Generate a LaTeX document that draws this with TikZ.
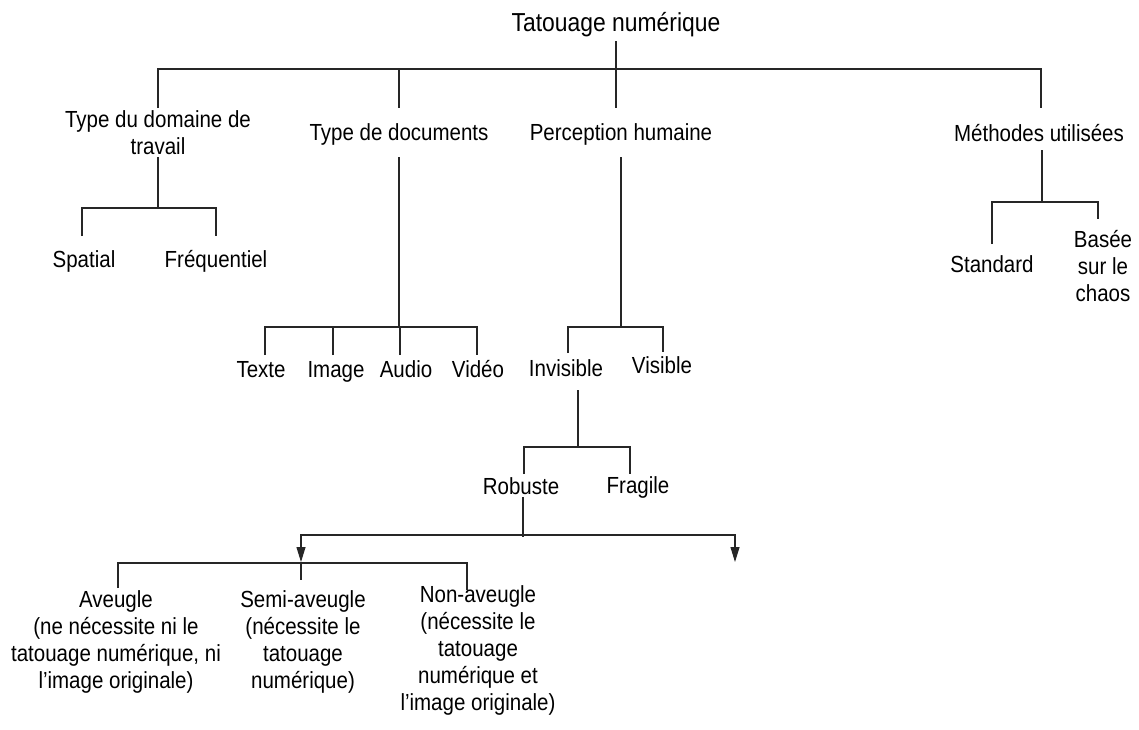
\documentclass[tikz,border=0pt]{standalone}
\usepackage{fontspec}
\setmainfont{Liberation Sans}[FakeStretch=0.88]
\usetikzlibrary{arrows.meta}
\newcommand{\ml}[1]{\begin{tabular}[t]{@{}c@{}}#1\end{tabular}}
\tikzset{
  lbl/.style={anchor=base, inner sep=0pt, font=\fontsize{23.3}{27}\selectfont},
  ttl/.style={anchor=base, inner sep=0pt, font=\fontsize{26}{30}\selectfont},
  ln/.style={line width=1.1pt, draw=black!85},
  arr/.style={ln, -{Triangle[length=15pt,width=9pt]}},
}
\begin{document}
\begin{tikzpicture}[x=1pt,y=-1pt]
\useasboundingbox (0,0) rectangle (1139,729);
% nodes
\node[ttl] (root) at (616,31) {Tatouage numérique};
\node[lbl] (tdom) at (158,127) {\ml{Type du domaine de\\travail}};
\node[lbl] (tdoc) at (399,140) {Type de documents};
\node[lbl] (perc) at (621,140) {Perception humaine};
\node[lbl] (meth) at (1039,141) {Méthodes utilisées};
\node[lbl] (spat) at (84,267) {Spatial};
\node[lbl] (freq) at (216,267) {Fréquentiel};
\node[lbl] (texte) at (261,377) {Texte};
\node[lbl] (image) at (336,377) {Image};
\node[lbl] (audio) at (406,377) {Audio};
\node[lbl] (video) at (478,377) {Vidéo};
\node[lbl] (invis) at (566,376) {Invisible};
\node[lbl] (visib) at (662,373) {Visible};
\node[lbl] (robu) at (521,494) {Robuste};
\node[lbl] (frag) at (638,493) {Fragile};
\node[lbl] (stand) at (992,272) {Standard};
\node[lbl] (basee) at (1103,247) {\ml{Basée\\sur le\\chaos}};
\node[lbl] (aveu) at (116,607) {\ml{Aveugle\\(ne nécessite ni le\\tatouage numérique, ni\\l’image originale)}};
\node[lbl] (semi) at (303,607) {\ml{Semi-aveugle\\(nécessite le\\tatouage\\numérique)}};
\node[lbl] (nonav) at (478,602) {\ml{Non-aveugle\\(nécessite le\\tatouage\\numérique et\\l’image originale)}};
% coordinates
\coordinate (r0) at (616,41);
\coordinate (r1) at (616,108);
\coordinate (bL) at (158,69);
\coordinate (bR) at (1041,69);
\coordinate (dL) at (158,108);
\coordinate (dD) at (399,108);
\coordinate (dM) at (1041,108);
% domaine subtree
\coordinate (tdom1) at (158,157);
\coordinate (tdom2) at (158,208);
\coordinate (spat1) at (82,236);
\coordinate (freq1) at (216,236);
% documents subtree
\coordinate (tdoc1) at (399,157);
\coordinate (tdoc2) at (399,327);
\coordinate (texte1) at (265,355);
\coordinate (image1) at (333,355);
\coordinate (audio1) at (400,355);
\coordinate (video1) at (477,355);
% perception subtree
\coordinate (perc1) at (621,157);
\coordinate (perc2) at (621,327);
\coordinate (invis1) at (568,353);
\coordinate (visib1) at (663,352);
\coordinate (invis2) at (578,390);
\coordinate (invis3) at (578,447);
\coordinate (robu1) at (524,474);
\coordinate (frag1) at (630,474);
% robuste
\coordinate (robu2) at (523,497);
\coordinate (robu3) at (523,537);
\coordinate (robu4) at (523,535);
\coordinate (arrL) at (301,562);
\coordinate (arrR) at (735,562);
\coordinate (lowL) at (118,563);
\coordinate (lowR) at (467,563);
\coordinate (aveu1) at (118,588);
\coordinate (semi1) at (301,563);
\coordinate (semi2) at (301,580);
\coordinate (nonav1) at (467,590);
% methodes
\coordinate (meth1) at (1042,150);
\coordinate (meth2) at (1042,202);
\coordinate (stand1) at (992,244);
\coordinate (basee1) at (1098,219);
% connectors
\draw[ln] (r0) -- (r1);
\draw[ln] (dL) -- (bL) -- (bR) -- (dM);
\draw[ln] (tdoc |- bL) -- (dD);
\draw[ln] (tdom1) -- (tdom2);
\draw[ln] (spat1) |- (tdom2) -| (freq1);
\draw[ln] (tdoc1) -- (tdoc2);
\draw[ln] (texte1) |- (tdoc2) -| (video1);
\draw[ln] (image1) -- (image1 |- tdoc2);
\draw[ln] (audio1) -- (audio1 |- tdoc2);
\draw[ln] (perc1) -- (perc2);
\draw[ln] (invis1) |- (perc2) -| (visib1);
\draw[ln] (invis2) -- (invis3);
\draw[ln] (robu1) |- (invis3) -| (frag1);
\draw[ln] (robu2) -- (robu3);
\draw[arr] (robu4) -| (arrL);
\draw[arr] (robu4) -| (arrR);
\draw[ln] (aveu1) |- (lowL) -- (lowR) -- (nonav1);
\draw[ln] (semi1) -- (semi2);
\draw[ln] (meth1) -- (meth2);
\draw[ln] (stand1) |- (meth2) -| (basee1);
\end{tikzpicture}
\end{document}
